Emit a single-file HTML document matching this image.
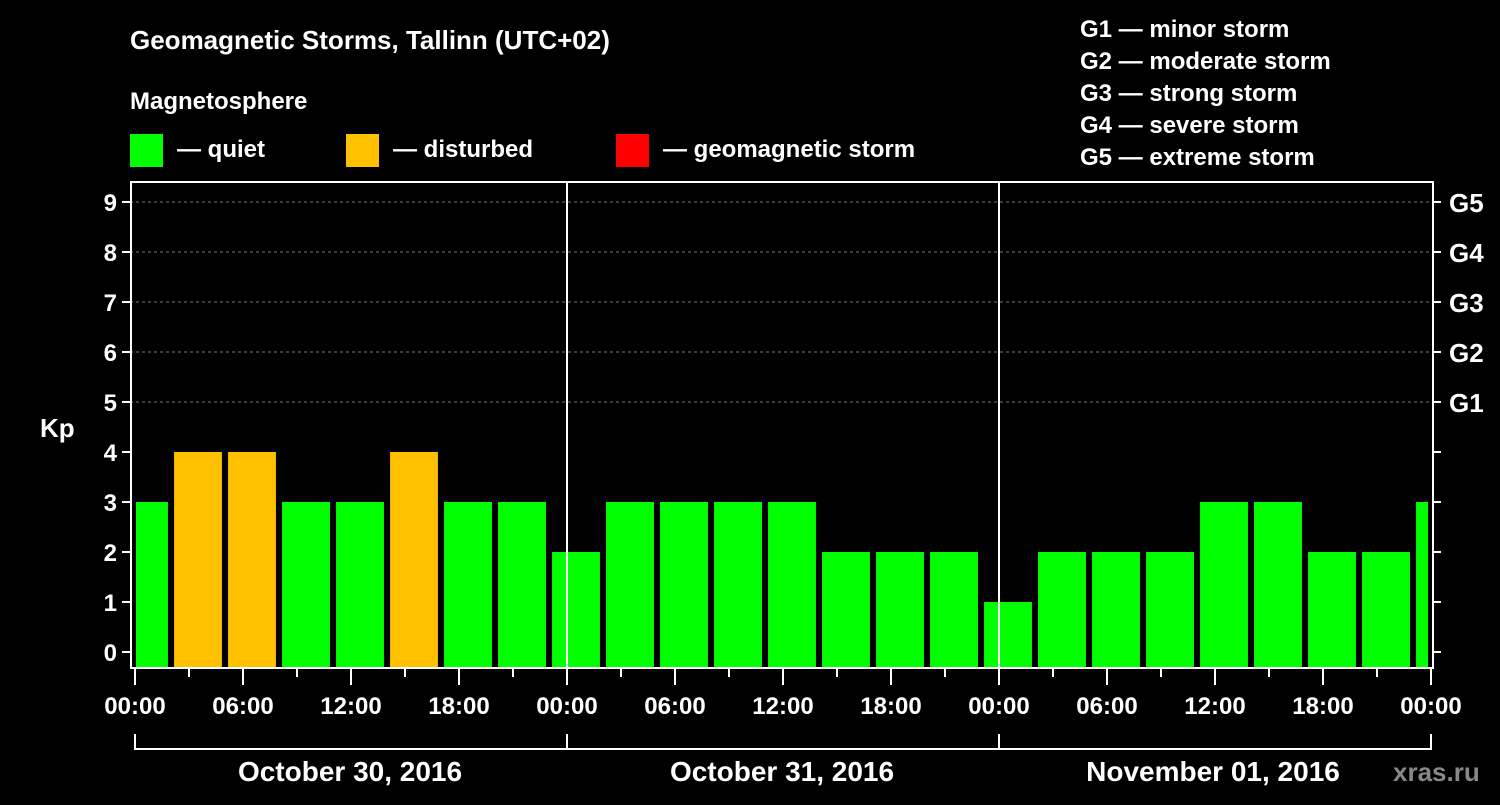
<!DOCTYPE html>
<html><head><meta charset="utf-8"><style>
body{margin:0;background:#000;width:1500px;height:800px;overflow:hidden}
svg text{font-family:"Liberation Sans",sans-serif;font-weight:bold;fill:#fff}
</style></head><body>
<svg id="c" width="1500" height="800" xmlns="http://www.w3.org/2000/svg">
<rect width="1500" height="800" fill="#000"/>
<text x="130" y="49" font-size="26">Geomagnetic Storms, Tallinn (UTC+02)</text>
<text x="130" y="109" font-size="24">Magnetosphere</text>
<g><rect x="130" y="134" width="33" height="33" fill="#00ff00"/><text x="177" y="157" font-size="24">— quiet</text></g>
<g><rect x="346" y="134" width="33" height="33" fill="#ffc000"/><text x="393" y="157" font-size="24">— disturbed</text></g>
<g><rect x="616" y="134" width="33" height="33" fill="#ff0000"/><text x="663" y="157" font-size="24">— geomagnetic storm</text></g>
<g font-size="24">
<text x="1080" y="37">G1 — minor storm</text><text x="1080" y="69">G2 — moderate storm</text><text x="1080" y="101">G3 — strong storm</text><text x="1080" y="133">G4 — severe storm</text><text x="1080" y="165">G5 — extreme storm</text></g>
<text x="40" y="437" font-size="26">Kp</text>
<text x="1213" y="781" font-size="28" fill="#fff" text-anchor="middle">November 01, 2016</text>
<text x="350" y="781" font-size="28" text-anchor="middle">October 30, 2016</text>
<text x="782" y="781" font-size="28" text-anchor="middle">October 31, 2016</text>
<text x="1393" y="781" font-size="26" style="fill:#888">xras.ru</text>
<g id="g"></g>
</svg>
<script>
const kpValues=[3,4,4,3,3,4,3,3,2,3,3,3,3,2,2,2,1,2,2,2,3,3,2,2,3];
const barStartHours=[-1,2,5,8,11,14,17,20,23,26,29,32,35,38,41,44,47,50,53,56,59,62,65,68,71];
const yTicks=[0,1,2,3,4,5,6,7,8,9];
const gLabels=["G1","G2","G3","G4","G5"];
const timeLabels=["00:00","06:00","12:00","18:00"];
const L=130,R=1433,T=182,B=668,X0=135,PH=18;
const x=h=>Math.max(136,Math.min(1428,X0+h*PH));
const y=k=>652-k*50;
const g=document.getElementById('g');
const NS='http://www.w3.org/2000/svg';
function mk(t,a){const e=document.createElementNS(NS,t);for(const k in a)e.setAttribute(k,a[k]);g.appendChild(e);return e;}
yTicks.forEach(k=>{if(k>=5){const l=mk('line',{x1:L,x2:R,y1:y(k),y2:y(k),stroke:'#777','stroke-dasharray':'3,3'});

}
const t=mk('text',{x:117,y:y(k)+9,'font-size':24,'text-anchor':'end'});t.textContent=k;


mk('line',{x1:L-8,x2:L,y1:y(k),y2:y(k),stroke:'#fff','stroke-width':2});
mk('line',{x1:R,x2:R+8,y1:y(k),y2:y(k),stroke:'#fff','stroke-width':2});});
gLabels.forEach((s,i)=>{const t=mk('text',{x:1449,y:y(5+i)+10,'font-size':26});t.textContent=s;

});
kpValues.forEach((v,i)=>{const a=x(barStartHours[i]+0.17),b=x(barStartHours[i]+2.83);
const r=mk('rect',{x:a,y:y(v),width:b-a,height:B-1-y(v),fill:v>=5?'#ff0000':v>=4?'#ffc000':'#00ff00'});

});
mk('rect',{x:L+1,y:T,width:R-L-1,height:B-T,fill:'none',stroke:'#fff','stroke-width':2});
[1,2].forEach(d=>mk('line',{x1:X0+d*432,x2:X0+d*432,y1:T,y2:B,stroke:'#fff','stroke-width':2}));
for(let h=0;h<=72;h+=3){const xx=X0+h*PH;mk('line',{x1:xx,x2:xx,y1:B,y2:h%6==0?685:677,stroke:'#fff','stroke-width':2});
if(h%6==0){const t=mk('text',{x:xx,y:714,'font-size':24,'text-anchor':'middle'});t.textContent=timeLabels[(h/6)%4];

}}
mk('line',{x1:X0,x2:X0+3*432,y1:749,y2:749,stroke:'#fff','stroke-width':2});
[0,1,2,3].forEach(d=>mk('line',{x1:X0+d*432,x2:X0+d*432,y1:734,y2:750,stroke:'#fff','stroke-width':2}));
</script>
</body></html>
